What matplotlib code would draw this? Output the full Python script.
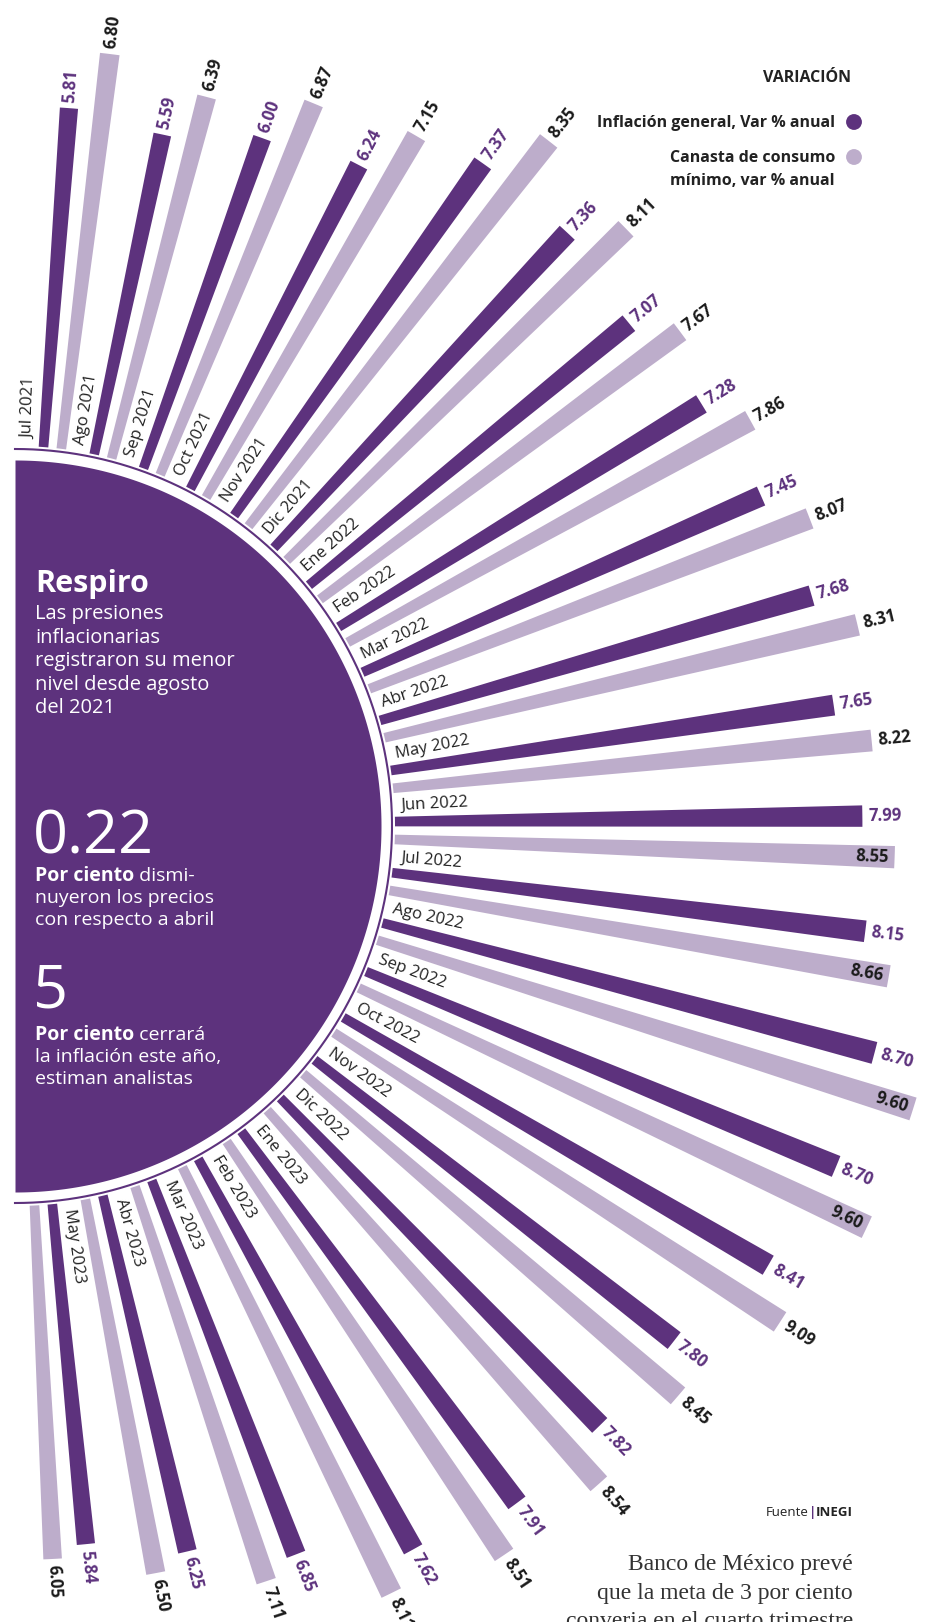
import numpy as np
import matplotlib
matplotlib.use('Agg')
import matplotlib.pyplot as plt

# %%
meses = ['Jul 2021', 'Ago 2021', 'Sep 2021', 'Oct 2021', 'Nov 2021', 'Dic 2021',
         'Ene 2022', 'Feb 2022', 'Mar 2022', 'Abr 2022', 'May 2022', 'Jun 2022',
         'Jul 2022', 'Ago 2022', 'Sep 2022', 'Oct 2022', 'Nov 2022', 'Dic 2022',
         'Ene 2023', 'Feb 2023', 'Mar 2023', 'Abr 2023', 'May 2023']
inflacion = [5.81, 5.59, 6.00, 6.24, 7.37, 7.36, 7.07, 7.28, 7.45, 7.68, 7.65, 7.99,
             8.15, 8.70, 8.70, 8.41, 7.80, 7.82, 7.91, 7.62, 6.85, 6.25, 5.84]
canasta = [6.80, 6.39, 6.87, 7.15, 8.35, 8.11, 7.67, 7.86, 8.07, 8.31, 8.22, 8.55,
           8.66, 9.60, 9.60, 9.09, 8.45, 8.54, 8.51, 8.11, 7.11, 6.50, 6.05]
# meses cuya etiqueta de canasta va dentro de la barra
dentro = ['Jun 2022', 'Jul 2022', 'Ago 2022', 'Sep 2022']

# %%
OSCURO = '#5d327d'
CLARO = '#bdadcb'
TEXTO = '#222222'
plt.rcParams['font.family'] = ['Open Sans', 'DejaVu Sans']

W, H = 934, 1622
fig = plt.figure(figsize=(W / 100, H / 100), dpi=100)

# centro del semicirculo (pixeles desde arriba) y escala radial
cx, cy = 15, 826
R = 1000
px_por_unidad = 58.5
rmin = -380 / px_por_unidad
ax = fig.add_axes([(cx - R) / W, (H - cy - R) / H, 2 * R / W, 2 * R / H], projection='polar')
ax.set_rorigin(rmin)
ax.set_rlim(rmin, rmin + R / px_por_unidad)
ax.axis('off')

def r_px(p):
    return rmin + p / px_por_unidad

# %%
idx = np.arange(len(meses))
ang_osc = 85.7 - 7.73 * idx
ang_cla = ang_osc - 2.7
ang_lbl = ang_osc + 2.35
ancho = np.deg2rad(1.45)

th = np.linspace(-np.pi / 2, np.pi / 2, 400)
ax.fill_between(th, rmin, r_px(366), color=OSCURO, lw=0)
ax.plot(th, np.full_like(th, r_px(377)), color=OSCURO, lw=1.5)

ax.bar(np.deg2rad(ang_osc), inflacion, width=ancho, bottom=0, color=OSCURO, lw=0)
ax.bar(np.deg2rad(ang_cla), canasta, width=ancho, bottom=0, color=CLARO, lw=0)

for i, mes in enumerate(meses):
    ax.text(np.deg2rad(ang_lbl[i]), r_px(387), mes, rotation=ang_lbl[i], rotation_mode='anchor',
            ha='left', va='center', fontsize=12, color=TEXTO)
    ax.text(np.deg2rad(ang_osc[i]), inflacion[i] + 6 / px_por_unidad, f'{inflacion[i]:.2f}',
            rotation=ang_osc[i], rotation_mode='anchor', ha='left', va='center',
            fontsize=12, fontweight='bold', color=OSCURO)
    if mes in dentro:
        ax.text(np.deg2rad(ang_cla[i]), canasta[i] - 6 / px_por_unidad, f'{canasta[i]:.2f}',
                rotation=ang_cla[i], rotation_mode='anchor', ha='right', va='center',
                fontsize=12, fontweight='bold', color='#1a1a1a')
    else:
        ax.text(np.deg2rad(ang_cla[i]), canasta[i] + 6 / px_por_unidad, f'{canasta[i]:.2f}',
                rotation=ang_cla[i], rotation_mode='anchor', ha='left', va='center',
                fontsize=12, fontweight='bold', color='#1a1a1a')

# %%
# capa de anotaciones en pixeles
ov = fig.add_axes([0, 0, 1, 1])
ov.set_xlim(0, W)
ov.set_ylim(H, 0)
ov.axis('off')
rend = fig.canvas.get_renderer()

def linea(x, y, partes, size, color, ha='left'):
    # partes: lista de (texto, peso, color)
    if ha == 'right':
        partes = partes[::-1]
    for txt, peso, col in partes:
        t = ov.text(x, y, txt, ha=ha, va='baseline', fontsize=size, fontweight=peso,
                    color=col or color)
        w = t.get_window_extent(rend).width
        x = x + w if ha == 'left' else x - w

# texto dentro del circulo
ov.text(35, 592, 'Respiro', fontsize=22, fontweight='bold', color='white', va='baseline')
sub = ['Las presiones', 'inflacionarias', 'registraron su menor', 'nivel desde agosto', 'del 2021']
for k, s in enumerate(sub):
    ov.text(35, 619 + 23.6 * k, s, fontsize=14.5, color='white', va='baseline')

ov.text(33, 853, '0.22', fontsize=44, color='white', va='baseline')
linea(35, 881, [('Por ciento', 'bold', None), (' dismi-', 'normal', None)], 14, 'white')
linea(35, 903, [('nuyeron los precios', 'normal', None)], 14, 'white')
linea(35, 925, [('con respecto a abril', 'normal', None)], 14, 'white')

ov.text(33, 1008, '5', fontsize=44, color='white', va='baseline')
linea(35, 1040, [('Por ciento', 'bold', None), (' cerrará', 'normal', None)], 14, 'white')
linea(35, 1062, [('la inflación este año,', 'normal', None)], 14, 'white')
linea(35, 1084, [('estiman analistas', 'normal', None)], 14, 'white')

# leyenda
ov.text(851, 82, 'VARIACIÓN', ha='right', va='baseline', fontsize=11.5, fontweight='bold', color=TEXTO)
ov.text(835, 127, 'Inflación general, Var % anual', ha='right', va='baseline', fontsize=11.5,
        fontweight='bold', color=TEXTO)
ov.text(835, 162, 'Canasta de consumo', ha='right', va='baseline', fontsize=11.5,
        fontweight='bold', color=TEXTO)
ov.text(835, 185, 'mínimo, var % anual', ha='right', va='baseline', fontsize=11.5,
        fontweight='bold', color=TEXTO)
ov.scatter([854, 854], [122, 157], s=130, color=[OSCURO, CLARO], lw=0)

# fuente
linea(853, 1516, [('Fuente', 'normal', None), ('|', 'bold', OSCURO), ('INEGI', 'bold', None)],
      9.5, TEXTO, ha='right')

# nota al pie
for k, s in enumerate(['Banco de México prevé', 'que la meta de 3 por ciento',
                       'converia en el cuarto trimestre']):
    ov.text(853, 1570 + 28.5 * k, s, ha='right', va='baseline', fontsize=17,
            family='Liberation Serif', color='#333333')

fig.savefig('out.png', dpi=100)
